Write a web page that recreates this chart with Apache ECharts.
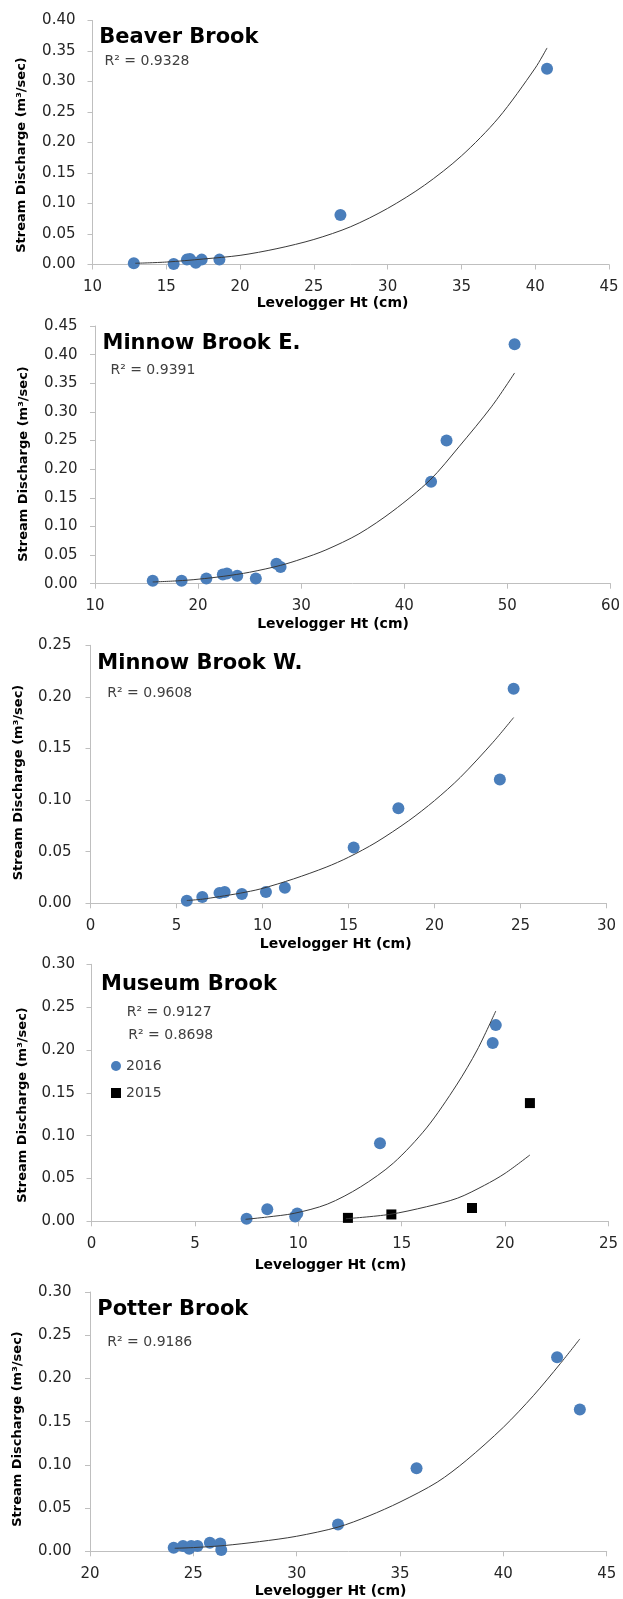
<!DOCTYPE html>
<html>
<head>
<meta charset="utf-8">
<script src="https://cdn.jsdelivr.net/npm/echarts@6/dist/echarts.min.js"></script>
<style>
  html, body { margin: 0; padding: 0; background: #fff; }
  #chart { width: 623px; height: 1599px; }
</style>
</head>
<body>
<div id="chart"></div>
<script>
// Beaver Brook
const beaverX = [12.8, 15.5, 16.4, 16.6, 17.0, 17.4, 18.6, 26.8, 40.8];
const beaverY = [0.002, 0.001, 0.008, 0.009, 0.003, 0.008, 0.008, 0.081, 0.321];
const beaverTrendX = [12.9, 15, 17.5, 20, 22.5, 25, 27.5, 30, 32.5, 35, 37.5, 40, 40.8];
const beaverTrendY = [0.002, 0.004, 0.009, 0.015, 0.026, 0.041, 0.062, 0.092, 0.130, 0.178, 0.240, 0.322, 0.355];

// Minnow Brook E.
const minnowEX = [15.6, 18.4, 20.8, 22.4, 22.8, 23.8, 25.6, 27.6, 28.0, 42.6, 44.1, 50.7];
const minnowEY = [0.005, 0.005, 0.009, 0.016, 0.018, 0.014, 0.009, 0.035, 0.029, 0.178, 0.250, 0.418];
const minnowETrendX = [15.6, 18, 20, 22.5, 25, 28, 30, 32.4, 35.6, 38.9, 42.5, 45.3, 48.5, 50.7];
const minnowETrendY = [0.003, 0.005, 0.0078, 0.013, 0.020, 0.032, 0.043, 0.059, 0.087, 0.127, 0.181, 0.239, 0.310, 0.368];

// Minnow Brook W.
const minnowWX = [5.6, 6.5, 7.5, 7.8, 8.8, 10.2, 11.3, 15.3, 17.9, 23.8, 24.6];
const minnowWY = [0.0025, 0.006, 0.010, 0.011, 0.009, 0.011, 0.015, 0.054, 0.092, 0.120, 0.208];
const minnowWTrendX = [5.6, 6.5, 7.5, 8.7, 9.9, 11.8, 13.7, 15, 16.6, 18.5, 20, 21.5, 23.4, 24.6];
const minnowWTrendY = [0.0027, 0.004, 0.0065, 0.0098, 0.014, 0.0236, 0.035, 0.0446, 0.059, 0.080, 0.0995, 0.122, 0.156, 0.180];

// Museum Brook
const museum16X = [7.5, 8.5, 9.85, 9.95, 13.95, 19.4, 19.55];
const museum16Y = [0.003, 0.014, 0.0055, 0.009, 0.091, 0.208, 0.229];
const museum16TrendX = [7.45, 8.5, 9.8, 11.4, 13.0, 14.6, 16.2, 17.65, 18.65, 19.55];
const museum16TrendY = [0.0023, 0.005, 0.0093, 0.020, 0.040, 0.068, 0.109, 0.159, 0.200, 0.2455];
const museum15X = [12.4, 14.5, 18.4, 21.2];
const museum15Y = [0.004, 0.008, 0.0155, 0.138];
const museum15TrendX = [12.3, 14.4, 16.2, 17.7, 19.0, 20.0, 21.2];
const museum15TrendY = [0.003, 0.008, 0.017, 0.027, 0.042, 0.056, 0.0774];

// Potter Brook
const potterX = [24.05, 24.5, 24.8, 24.9, 25.2, 25.8, 26.3, 26.35, 32.0, 35.8, 42.6, 43.7];
const potterY = [0.004, 0.006, 0.003, 0.006, 0.006, 0.010, 0.009, 0.0015, 0.031, 0.096, 0.2245, 0.164];
const potterTrendX = [24.1, 25, 26.5, 28.2, 30, 32, 33.5, 35, 36.8, 38.2, 40, 41.45, 42.75, 43.7];
const potterTrendY = [0.0035, 0.0043, 0.0067, 0.0112, 0.0174, 0.028, 0.041, 0.057, 0.080, 0.105, 0.1435, 0.180, 0.217, 0.2457];

const titles = ['Beaver Brook', 'Minnow Brook E.', 'Minnow Brook W.', 'Museum Brook', 'Potter Brook'];
const r2Labels = ['R² = 0.9328', 'R² = 0.9391', 'R² = 0.9608', 'R² = 0.9127', 'R² = 0.8698', 'R² = 0.9186'];
const xRanges = [[10, 45, 5], [10, 60, 10], [0, 30, 5], [0, 25, 5], [20, 45, 5]];
const yRanges = [[0, 0.40, 0.05], [0, 0.45, 0.05], [0, 0.25, 0.05], [0, 0.30, 0.05], [0, 0.30, 0.05]];
const xTitle = 'Levelogger Ht (cm)';
const yTitle = 'Stream Discharge (m³/sec)';

const FONT = '"DejaVu Sans", sans-serif';
const BLUE = '#4a7ebb';
const AXIS = '#bfbfbf';

// plot area of each panel (px)
const grids = [
    { left: 92.5, top: 20.5, width: 516.5, height: 244 },
    { left: 95, top: 326, width: 516.7, height: 257.7 },
    { left: 90.5, top: 645.3, width: 516, height: 258 },
    { left: 91.5, top: 964.3, width: 517, height: 257 },
    { left: 90, top: 1292, width: 516.7, height: 259.3 },
];
const yLabelMargins = [17, 17.5, 19, 16.5, 18.5];

const pairs = (xs, ys) => xs.map((x, i) => [x, ys[i]]);

const xAxes = grids.map((g, i) => ({
    type: 'value',
    gridIndex: i,
    min: xRanges[i][0],
    max: xRanges[i][1],
    interval: xRanges[i][2],
    axisLine: { lineStyle: { color: AXIS, width: 1 } },
    axisTick: { show: true, inside: false, length: 5, lineStyle: { color: AXIS } },
    splitLine: { show: false },
    axisLabel: { margin: 15, color: '#262626', fontFamily: FONT, fontSize: 15 },
}));

const yAxes = grids.map((g, i) => ({
    type: 'value',
    gridIndex: i,
    min: yRanges[i][0],
    max: yRanges[i][1],
    interval: yRanges[i][2],
    axisLine: { show: true, lineStyle: { color: AXIS, width: 1 } },
    axisTick: { show: true, inside: false, length: 5, lineStyle: { color: AXIS } },
    splitLine: { show: false },
    axisLabel: {
        margin: yLabelMargins[i],
        color: '#262626',
        fontFamily: FONT,
        fontSize: 15,
        formatter: (v) => v.toFixed(2),
    },
}));

const dots = (name, i, xs, ys) => ({
    name,
    type: 'scatter',
    xAxisIndex: i,
    yAxisIndex: i,
    symbol: 'circle',
    symbolSize: 12,
    itemStyle: { color: BLUE, opacity: 1 },
    z: 2,
    data: pairs(xs, ys),
});

const trend = (i, xs, ys) => ({
    type: 'line',
    xAxisIndex: i,
    yAxisIndex: i,
    showSymbol: false,
    symbol: 'none',
    smooth: 0.3,
    lineStyle: { color: '#3a3a3a', width: 1 },
    z: 3,
    silent: true,
    data: pairs(xs, ys),
});

const series = [
    dots('Beaver', 0, beaverX, beaverY),
    trend(0, beaverTrendX, beaverTrendY),
    dots('MinnowE', 1, minnowEX, minnowEY),
    trend(1, minnowETrendX, minnowETrendY),
    dots('MinnowW', 2, minnowWX, minnowWY),
    trend(2, minnowWTrendX, minnowWTrendY),
    dots('2016', 3, museum16X, museum16Y),
    trend(3, museum16TrendX, museum16TrendY),
    {
        name: '2015',
        type: 'scatter',
        xAxisIndex: 3,
        yAxisIndex: 3,
        symbol: 'rect',
        symbolSize: 10,
        itemStyle: { color: '#000', opacity: 1 },
        z: 2,
        data: pairs(museum15X, museum15Y),
    },
    trend(3, museum15TrendX, museum15TrendY),
    dots('Potter', 4, potterX, potterY),
    trend(4, potterTrendX, potterTrendY),
];

// text helpers (titles, R², axis titles)
const text = (str, x, y, font, fill, align, rotation) => ({
    type: 'text',
    x,
    y,
    rotation: rotation || 0,
    silent: true,
    style: {
        text: str,
        font,
        fill,
        textAlign: align,
        textVerticalAlign: 'middle',
        align,
        verticalAlign: 'middle',
    },
});

const titlePos = [[99.3, 37.5], [102.5, 344], [97.3, 663.3], [101, 984.8], [97.3, 1310]];
const r2Pos = [[104.5, 61.7], [110.4, 370], [107.3, 693.3], [126.7, 1012.3], [128.3, 1035], [107.3, 1342.7]];
const xTitlePos = [[332.5, 303.3], [333, 624], [335.7, 944], [330.5, 1265], [330.5, 1591]];
const yTitlePos = [[21.9, 155], [23.8, 464], [19, 782.5], [23, 1105], [17.9, 1429]];

const graphics = [];
titles.forEach((t, i) => {
    graphics.push(text(t, titlePos[i][0], titlePos[i][1], 'bold 21px ' + FONT, '#000', 'left'));
});
r2Labels.forEach((t, i) => {
    graphics.push(text(t, r2Pos[i][0], r2Pos[i][1], '14px ' + FONT, '#404040', 'left'));
});
xTitlePos.forEach((p) => {
    graphics.push(text(xTitle, p[0], p[1], 'bold 14px ' + FONT, '#000', 'center'));
});
yTitlePos.forEach((p) => {
    graphics.push(text(yTitle, p[0], p[1], 'bold 13px ' + FONT, '#000', 'center', Math.PI / 2));
});

const option = {
    animation: false,
    backgroundColor: '#fff',
    grid: grids.map((g) => ({ ...g, containLabel: false })),
    xAxis: xAxes,
    yAxis: yAxes,
    legend: {
        data: [
            { name: '2016', icon: 'circle' },
            { name: '2015', icon: 'rect' },
        ],
        orient: 'vertical',
        left: 111,
        top: 1059,
        padding: 0,
        itemWidth: 10,
        itemHeight: 10,
        itemGap: 13,
        selectedMode: false,
        textStyle: { fontFamily: FONT, fontSize: 14, color: '#404040' },
    },
    series,
    graphic: graphics,
};

const chart = echarts.init(document.getElementById('chart'), null, { renderer: 'canvas' });
chart.setOption(option);
</script>
</body>
</html>
